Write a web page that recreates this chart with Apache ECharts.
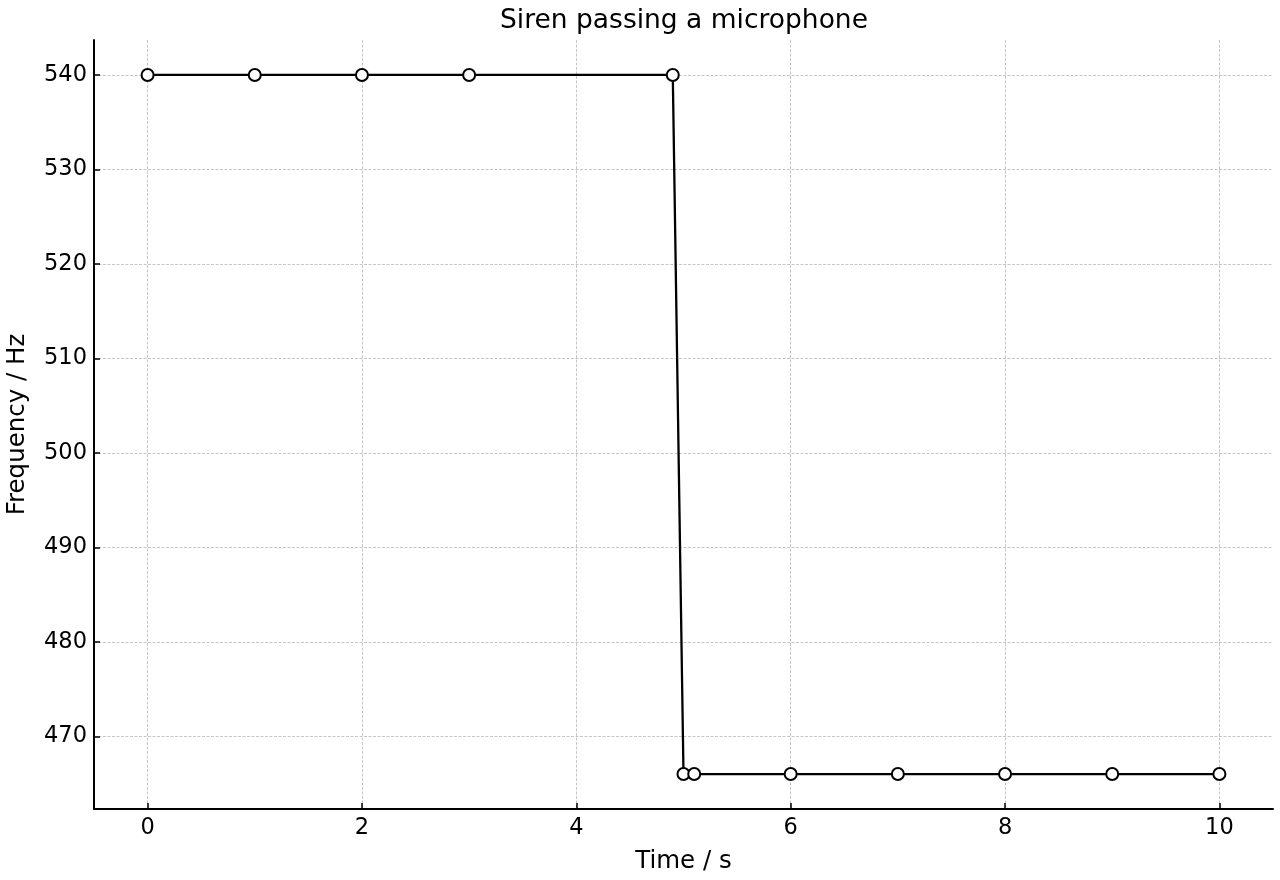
<!DOCTYPE html>
<html><head><meta charset="utf-8">
<script src="https://cdn.jsdelivr.net/npm/echarts@6/dist/echarts.min.js"></script>
<style>html,body{margin:0;padding:0;background:#fff}#c{width:1280px;height:880px}</style>
</head><body><div id="c"></div>
<script>
const timeS = [0, 1, 2, 3, 4.9, 5.0, 5.1, 6, 7, 8, 9, 10];
const freqHz = [540, 540, 540, 540, 540, 466, 466, 466, 466, 466, 466, 466];
const xTicks = [0, 2, 4, 6, 8, 10];
const yTicks = [470, 480, 490, 500, 510, 520, 530, 540];
const titleText = 'Siren passing a microphone';
const xName = 'Time / s';
const yName = 'Frequency / Hz';

const font = 'DejaVu Sans';
const chart = echarts.init(document.getElementById('c'), null, {renderer: 'canvas'});
const gridLine = {show: true, lineStyle: {color: '#b8b8b8', type: [3, 1.5], width: 0.8}};
chart.setOption({
  animation: false,
  backgroundColor: '#fff',
  title: {text: titleText, left: 495, top: 3, textStyle: {fontFamily: font, fontSize: 26.5, fontWeight: 'normal', color: '#000'}},
  grid: {left: 94, right: 7, top: 40, bottom: 71, containLabel: false, outerBoundsMode: 'none'},
  xAxis: {
    type: 'value', min: -0.5, max: 10.5,
    name: xName, nameLocation: 'middle', nameGap: 40,
    nameTextStyle: {fontFamily: font, fontSize: 24.5, color: '#000'},
    axisLine: {show: true, onZero: false, lineStyle: {color: '#000', width: 2}},
    axisTick: {show: true, inside: true, length: 6, customValues: xTicks, lineStyle: {color: '#000', width: 1.5}},
    axisLabel: {customValues: xTicks, fontFamily: font, fontSize: 22.5, color: '#000', margin: 8},
    splitLine: Object.assign({customValues: xTicks}, gridLine)
  },
  yAxis: {
    type: 'value', min: 462.3, max: 543.7,
    name: yName, nameLocation: 'middle', nameGap: 64,
    nameTextStyle: {fontFamily: font, fontSize: 24.5, color: '#000'},
    axisLine: {show: true, onZero: false, lineStyle: {color: '#000', width: 2}},
    axisTick: {show: true, inside: true, length: 6, customValues: yTicks, lineStyle: {color: '#000', width: 1.5}},
    axisLabel: {customValues: yTicks, fontFamily: font, fontSize: 22.5, color: '#000', margin: 7},
    splitLine: Object.assign({customValues: yTicks}, gridLine)
  },
  series: [{
    type: 'line',
    data: timeS.map((t, i) => [t, freqHz[i]]),
    symbol: 'circle', symbolSize: 12,
    showAllSymbol: true,
    lineStyle: {color: '#000', width: 2.3},
    itemStyle: {color: '#fff', borderColor: '#000', borderWidth: 2},
    z: 5
  }]
});
</script></body></html>
